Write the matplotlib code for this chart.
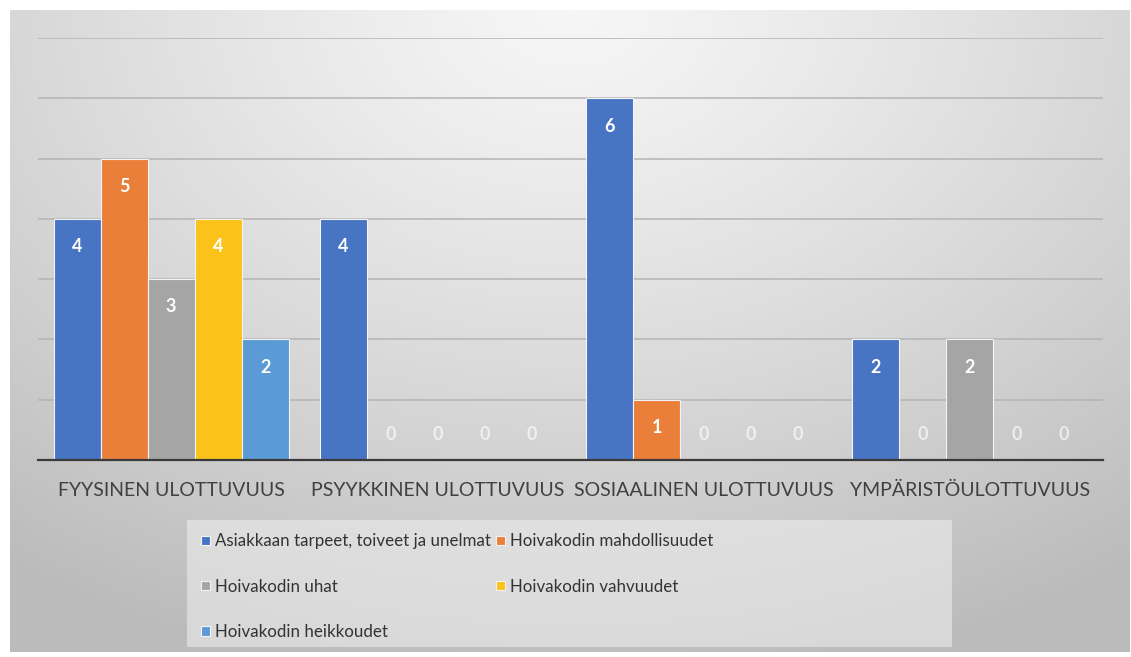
import matplotlib
matplotlib.use("Agg")
import matplotlib.pyplot as plt
import numpy as np
from matplotlib.patches import Rectangle

CATEGORIES = ["FYYSINEN ULOTTUVUUS", "PSYYKKINEN ULOTTUVUUS",
              "SOSIAALINEN ULOTTUVUUS", "YMPÄRISTÖULOTTUVUUS"]
SERIES = ["Asiakkaan tarpeet, toiveet ja unelmat", "Hoivakodin mahdollisuudet",
          "Hoivakodin uhat", "Hoivakodin vahvuudet", "Hoivakodin heikkoudet"]
asiakkaan = [4, 4, 6, 2]
mahdollisuudet = [5, 0, 1, 0]
uhat = [3, 0, 0, 2]
vahvuudet = [4, 0, 0, 0]
heikkoudet = [2, 0, 0, 0]
COLORS = ["#4874C4", "#EA7F3A", "#A5A5A5", "#FBC21A", "#5B9BD5"]

plt.rcParams["font.family"] = ["Lato", "DejaVu Sans"]

W, H = 1131, 657
fig = plt.figure(figsize=(W / 100, H / 100), dpi=100)
fig.patch.set_facecolor("white")

# gradient chart-area background
bg = fig.add_axes([10 / W, 1 - 652 / H, 1120 / W, 642 / H])
yy, xx = np.mgrid[0:1:300j, 0:1:500j]
d = np.sqrt(((xx - 0.5) * 1.0) ** 2 + (yy * 0.8) ** 2)
shade = 0.965 - 0.23 * np.clip(d / 0.85, 0, 1) ** 1.2
bg.imshow(np.dstack([shade] * 3), aspect="auto", extent=[0, 1, 1, 0])
bg.set_axis_off()

# legend background box
fig.patches.append(Rectangle((187 / W, 1 - 647 / H), 765 / W, 127 / H,
                             transform=fig.transFigure, facecolor="#f0f0f0",
                             alpha=0.55, edgecolor="none", zorder=1))

ax = fig.add_axes([38 / W, 1 - 460 / H, 1065 / W, 422 / H])
ax.set_facecolor("none")

values = [asiakkaan, mahdollisuudet, uhat, vahvuudet, heikkoudet]
x = np.arange(len(CATEGORIES))
w = 0.1767
handles = []
for i, (name, vals, col) in enumerate(zip(SERIES, values, COLORS)):
    pos = x + (i - 2) * w
    b = ax.bar(pos, vals, w, color=col, label=name, edgecolor="#f4f4f4",
               linewidth=0.8, zorder=3)
    handles.append(b)
    for px, v in zip(pos, vals):
        ax.annotate(str(v), (px, v), xytext=(0, -20 if v > 0 else 18),
                    textcoords="offset points", ha="center", va="center",
                    color="white", fontsize=13, fontweight="bold", zorder=4,
                    alpha=1 if v > 0 else 0.65)

ax.set_xlim(-0.5, len(CATEGORIES) - 0.5)
ax.set_ylim(0, 7)
ax.set_yticks(range(1, 8))
ax.yaxis.grid(True, color="#b4b4b4", linewidth=1.1, zorder=0)
ax.tick_params(axis="y", left=False, labelleft=False)
ax.set_xticks(x, CATEGORIES)
ax.tick_params(axis="x", length=0, pad=16, labelsize=14, labelcolor="#404040")
for s in ["top", "right", "left"]:
    ax.spines[s].set_visible(False)
ax.spines["bottom"].set_color("#3a3a3a")
ax.spines["bottom"].set_linewidth(1.6)
ax.spines["bottom"].set_zorder(5)

# Excel fills the legend row by row; matplotlib column by column
order = [0, 2, 4, 1, 3]
leg = fig.legend([handles[k] for k in order], [SERIES[k] for k in order],
                 loc="upper left", bbox_to_anchor=(193 / W, 1 - 525 / H),
                 ncol=2, frameon=False, fontsize=12.2, labelcolor="#333333",
                 handlelength=0.5, handleheight=0.5, handletextpad=0.3,
                 columnspacing=0.3, labelspacing=1.72, borderpad=0)

fig.savefig("out.png", dpi=100)
